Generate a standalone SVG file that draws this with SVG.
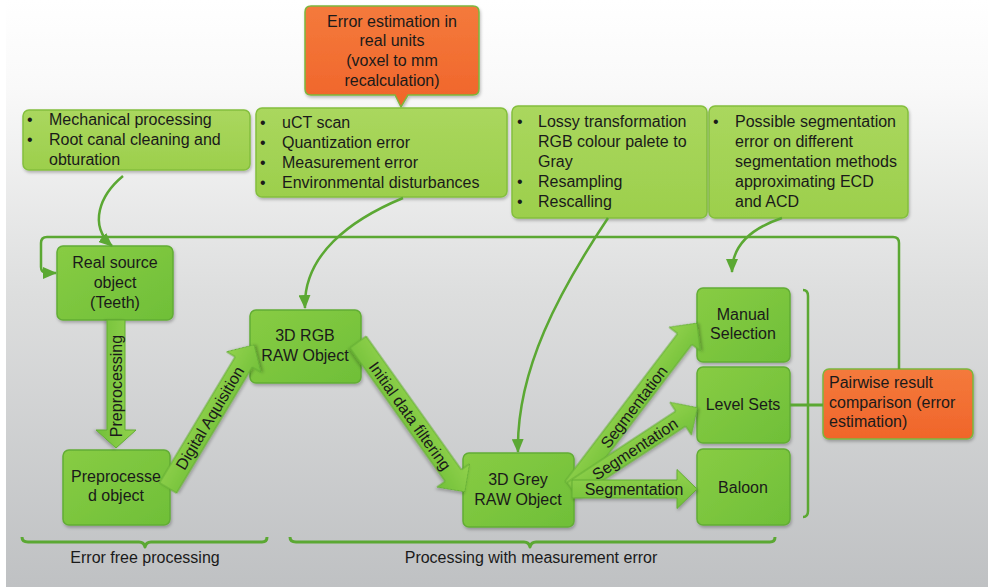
<svg xmlns="http://www.w3.org/2000/svg" width="988" height="587" viewBox="0 0 988 587">
<defs>
<linearGradient id="bg" x1="0" y1="0" x2="0" y2="1">
<stop offset="0" stop-color="#ffffff"/>
<stop offset="0.15" stop-color="#f9f9f9"/>
<stop offset="0.5" stop-color="#dddede"/>
<stop offset="1" stop-color="#bfc1c3"/>
</linearGradient>
<linearGradient id="gInfo" x1="0" y1="0" x2="0" y2="1">
<stop offset="0" stop-color="#aad75e"/>
<stop offset="1" stop-color="#9ccf4c"/>
</linearGradient>
<linearGradient id="gProc" x1="0" y1="0" x2="1" y2="1">
<stop offset="0" stop-color="#88cc44"/>
<stop offset="1" stop-color="#6fbf38"/>
</linearGradient>
<linearGradient id="gOr" x1="0" y1="0" x2="0" y2="1">
<stop offset="0" stop-color="#f47a3c"/>
<stop offset="1" stop-color="#f0652a"/>
</linearGradient>
<linearGradient id="gArr" x1="0" y1="0" x2="0" y2="1">
<stop offset="0" stop-color="#92d24c"/>
<stop offset="1" stop-color="#72c03a"/>
</linearGradient>
<filter id="sh" x="-10%" y="-10%" width="120%" height="130%">
<feDropShadow dx="1" dy="2" stdDeviation="1.5" flood-color="#000" flood-opacity="0.25"/>
</filter>
<marker id="ah" viewBox="0 0 14 12" refX="13" refY="6" markerWidth="14" markerHeight="12" markerUnits="userSpaceOnUse" orient="auto">
<path d="M0,0 L14,6 L0,12 Z" fill="#5ba833"/>
</marker>
<style>
.info{fill:url(#gInfo);stroke:#84bf3e;stroke-width:1.5;filter:url(#sh)}
.proc{fill:url(#gProc);stroke:#62ad34;stroke-width:1.5;filter:url(#sh)}
.orange{fill:url(#gOr);stroke:#7cb63c;stroke-width:1.5;filter:url(#sh)}
.t{font-family:"Liberation Sans",Arial,sans-serif;font-size:16px;fill:#1a1a1a}
.c{text-anchor:middle}
.ln{fill:none;stroke:#5ba833;stroke-width:2.5}
.arr{fill:url(#gArr);stroke:#62ad34;stroke-width:1;stroke-linejoin:round;filter:url(#sh)}
.br{fill:none;stroke:#5ba833;stroke-width:3;stroke-linejoin:round}
</style>
</defs>
<rect x="0" y="0" width="988" height="587" fill="#ffffff"/>
<rect x="6" y="0" width="982" height="587" fill="url(#bg)"/>

<g id="note-error-units">
<path class="orange" d="M311,6 H473 Q479,6 479,12 V89 Q479,95 473,95 H408 L401,107 L395,95 H311 Q305,95 305,89 V12 Q305,6 311,6 Z"/>
<text class="t c" x="392" y="27">Error estimation in</text>
<text class="t c" x="392" y="46">real units</text>
<text class="t c" x="392" y="66">(voxel to mm</text>
<text class="t c" x="392" y="86">recalculation)</text>
</g>

<g id="note-mechanical">
<rect class="info" x="23" y="110" width="227" height="60" rx="6"/>
<text class="t" x="27" y="125">•</text><text class="t" x="49" y="125">Mechanical processing</text>
<text class="t" x="27" y="145">•</text><text class="t" x="49" y="145">Root canal cleaning and</text>
<text class="t" x="49" y="165">obturation</text>
</g>

<g id="note-uct">
<rect class="info" x="256" y="108" width="251" height="89" rx="6"/>
<text class="t" x="260" y="128">•</text><text class="t" x="282" y="128">uCT scan</text>
<text class="t" x="260" y="148">•</text><text class="t" x="282" y="148">Quantization error</text>
<text class="t" x="260" y="168">•</text><text class="t" x="282" y="168">Measurement error</text>
<text class="t" x="260" y="188">•</text><text class="t" x="282" y="188">Environmental disturbances</text>
</g>

<g id="note-lossy">
<rect class="info" x="512" y="106" width="195" height="112" rx="6"/>
<text class="t" x="517" y="127">•</text><text class="t" x="538" y="127">Lossy transformation</text>
<text class="t" x="538" y="147">RGB colour palete to</text>
<text class="t" x="538" y="167">Gray</text>
<text class="t" x="517" y="187">•</text><text class="t" x="538" y="187">Resampling</text>
<text class="t" x="517" y="207">•</text><text class="t" x="538" y="207">Rescalling</text>
</g>

<g id="note-segmentation">
<rect class="info" x="709" y="106" width="199" height="112" rx="6"/>
<text class="t" x="713" y="127">•</text><text class="t" x="735" y="127">Possible segmentation</text>
<text class="t" x="735" y="147">error on different</text>
<text class="t" x="735" y="167">segmentation methods</text>
<text class="t" x="735" y="187">approximating ECD</text>
<text class="t" x="735" y="207">and ACD</text>
</g>

<g id="real-source">
<rect class="proc" x="57" y="246" width="116" height="74" rx="6"/>
<text class="t c" x="115" y="268">Real source</text>
<text class="t c" x="115" y="288">object</text>
<text class="t c" x="115" y="308">(Teeth)</text>
</g>

<g id="preprocessed">
<rect class="proc" x="63" y="450" width="107" height="75" rx="6"/>
<text class="t c" x="116" y="482">Preprocesse</text>
<text class="t c" x="116" y="501">d object</text>
</g>

<g id="rgb-raw">
<rect class="proc" x="250" y="310" width="111" height="73" rx="6"/>
<text class="t c" x="305" y="341">3D RGB</text>
<text class="t c" x="305" y="361">RAW Object</text>
</g>

<g id="grey-raw">
<rect class="proc" x="463" y="453" width="111" height="74" rx="6"/>
<text class="t c" x="518" y="485">3D Grey</text>
<text class="t c" x="518" y="505">RAW Object</text>
</g>

<g id="manual-selection">
<rect class="proc" x="697" y="288" width="93" height="74" rx="6"/>
<text class="t c" x="743" y="320">Manual</text>
<text class="t c" x="743" y="339">Selection</text>
</g>

<g id="level-sets">
<rect class="proc" x="697" y="367" width="93" height="76" rx="6"/>
<text class="t c" x="743" y="410">Level Sets</text>
</g>

<g id="baloon">
<rect class="proc" x="697" y="449" width="93" height="76" rx="6"/>
<text class="t c" x="743" y="493">Baloon</text>
</g>

<g id="pairwise">
<rect class="orange" x="823" y="369" width="150" height="70" rx="6"/>
<text class="t" x="829" y="388">Pairwise result</text>
<text class="t" x="829" y="408">comparison (error</text>
<text class="t" x="829" y="427">estimation)</text>
</g>

<g id="braces">
<path class="br" d="M22,537 Q22,542 28,542 H139 Q144,542 145,547 Q146,542 151,542 H262 Q267,542 267,537"/>
<text class="t c" x="145" y="563">Error free processing</text>
<path class="br" d="M290,537 Q290,542 296,542 H524 Q529,542 530,547 Q531,542 536,542 H770 Q775,542 775,537"/>
<text class="t c" x="531" y="563">Processing with measurement error</text>
</g>

<g id="connectors">
<path class="ln" d="M123,176 C100,195 88,225 112,246" marker-end="url(#ah)"/>
<path class="ln" d="M403,198 C350,220 303,255 305,308" marker-end="url(#ah)"/>
<path class="ln" d="M608,218 C560,290 516,370 518,452" marker-end="url(#ah)"/>
<path class="ln" d="M782,218 C752,228 732,245 732,272" marker-end="url(#ah)"/>
<path class="ln" d="M899,369 V243 Q899,237 893,237 H47 Q41,237 41,243 V267 Q41,273 47,273 H56" marker-end="url(#ah)"/>
<path class="br" d="M790,405 H823"/>
<path class="br" style="stroke-width:2.5" d="M803,290 Q808,290 808,296 V511 Q808,517 803,517"/>

<g transform="translate(116,320) rotate(90)">
<path class="arr" d="M0,-9 L110,-9 L110,-20 L128,0 L110,20 L110,9 L0,9 Z"/>
</g>
<text class="t c" transform="translate(116,386) rotate(-90)" y="5.5">Preprocessing</text>

<g transform="translate(168,488) rotate(-59)">
<path class="arr" d="M0,-10 L147,-10 L147,-20 L167,0 L147,20 L147,10 L0,10 Z"/>
</g>
<text class="t c" transform="translate(210,418) rotate(-59)" y="5.5">Digital Aquisition</text>

<g transform="translate(358,342) rotate(54.5)">
<path class="arr" d="M0,-10 L164,-10 L164,-20 L184,0 L164,20 L164,10 L0,10 Z"/>
</g>
<text class="t c" transform="translate(410,416) rotate(54.5)" y="5.5">Initial data filtering</text>

<g transform="translate(572,487) rotate(-52.7)">
<path class="arr" d="M0,-9 L186,-9 L186,-19.5 L206,0 L186,19.5 L186,9 L0,9 Z"/>
</g>
<g transform="translate(572,490) rotate(-33.3)">
<path class="arr" d="M0,-9 L130,-9 L130,-19.5 L150,0 L130,19.5 L130,9 L0,9 Z"/>
</g>
<g transform="translate(572,489)">
<path class="arr" d="M0,-9 L105,-9 L105,-19.5 L125,0 L105,19.5 L105,9 L0,9 Z"/>
</g>
<text class="t c" transform="translate(634,407) rotate(-52.7)" y="5.5">Segmentation</text>
<text class="t c" transform="translate(635,449) rotate(-33.3)" y="5.5">Segmentation</text>
<text class="t c" x="634" y="494.5">Segmentation</text>
</g>
</svg>
